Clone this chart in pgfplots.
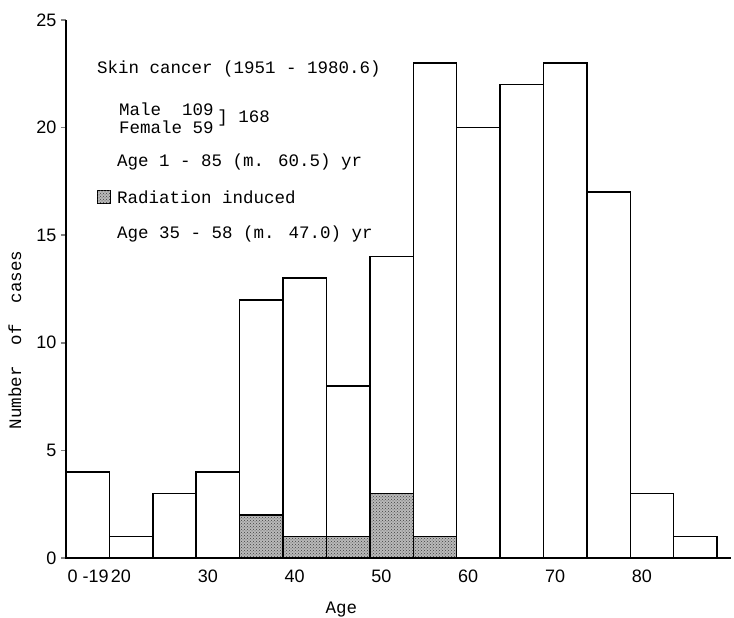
\documentclass[border=0pt]{standalone}
\usepackage{pgfplots}
\usepackage{fontspec}
\setmainfont{Liberation Mono}
\newfontfamily\tickfont{Liberation Sans}
\usetikzlibrary{patterns}
\pgfplotsset{compat=1.18}

% histogram counts, one row per 5-year bin (bin 0 = ages 0-19)
\pgfplotstableread{
x  total
0  4
1  1
2  3
3  4
4  12
5  13
6  8
7  14
8  23
9  20
10 22
11 23
12 17
13 3
14 1
15 1
}\alltab
\pgfplotstableread{
x  rad
4  2
5  1
6  1
7  3
8  1
9  0
}\radtab

\tikzset{radfill/.style={fill=gray!55, postaction={pattern=crosshatch dots, pattern color=black!75}}}

\begin{document}
\begin{tikzpicture}
\begin{axis}[
  scale only axis,
  width=665pt, height=538pt,
  xmin=0, xmax=15.32, ymin=0, ymax=25,
  axis x line*=bottom, axis y line*=left,
  axis line style={line width=1.8pt},
  ytick={0,5,10,15,20,25},
  xtick={0,1,3,5,7,9,11,13},
  xticklabels={0 -19,20,30,40,50,60,70,80},
  xtick style={draw=none},
  ytick style={line width=1.5pt},
  tick align=outside,
  major tick length=5pt,
  /pgf/number format/assume math mode=true,
  tick label style={font=\fontsize{18}{18}\tickfont},
  xticklabel style={anchor=north west, xshift=-2pt, yshift=-3pt},
  yticklabel style={anchor=east, xshift=-1pt},
  xlabel={Age},
  xlabel style={at={(axis description cs:0.414,-0.104)}, anchor=base, font=\fontsize{17.5}{17.5}\selectfont},
  ylabel={Number\ \ of\ \ cases},
  ylabel style={at={(axis description cs:-0.062,0.405)}, anchor=south, font=\fontsize{17.5}{17.5}\selectfont},
  clip=false,
]
\addplot[ybar interval, draw=black, line width=1.5pt, fill=white] table[x=x, y=total] {\alltab};
\addplot[ybar interval, draw=black, line width=1.5pt, radfill] table[x=x, y=rad] {\radtab};

\begin{scope}[every node/.style={font=\fontsize{17.5}{17.5}\selectfont, inner sep=0pt}]
\node[anchor=west] at (axis cs:0.714,22.72) {Skin cancer (1951 - 1980.6)};
\node[anchor=west] at (axis cs:1.221,20.85) {Male\ \ 109};
\node[anchor=west] at (axis cs:1.221,20.0) {Female 59};
\node[anchor=west] at (axis cs:3.48,20.45) {] 168};
\node[anchor=west] at (axis cs:1.175,18.40) {Age 1 - 85 (m. 60.5) yr};
\node[anchor=west] at (axis cs:0.714,16.77) {\tikz\draw[line width=0.8pt, radfill] (0,0) rectangle (13pt,13pt);};
\node[anchor=west] at (axis cs:1.175,16.77) {Radiation induced};
\node[anchor=west] at (axis cs:1.175,15.06) {Age 35 - 58 (m. 47.0) yr};
\end{scope}
\end{axis}
\pgfresetboundingbox
\path[use as bounding box] ([shift={(-66pt,-60pt)}]current axis.south west) rectangle ([shift={(3pt,20pt)}]current axis.north east);
\end{tikzpicture}
\end{document}
